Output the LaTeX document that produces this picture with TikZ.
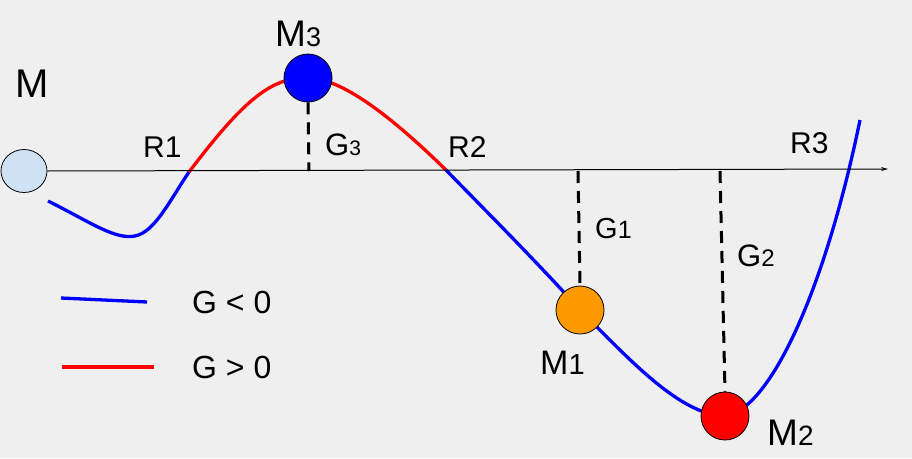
\documentclass[tikz,border=0pt]{standalone}
\usepackage{fontspec}
\setmainfont{Liberation Sans}
\usetikzlibrary{arrows.meta,shapes.geometric}
\definecolor{bg}{HTML}{EFEFEF}
\definecolor{lblue}{HTML}{CFE2F3}
\definecolor{orng}{HTML}{FF9900}
\definecolor{pblue}{HTML}{0000FF}
\definecolor{pred}{HTML}{FF0000}
\begin{document}
\begin{tikzpicture}[x=1pt,y=-1pt,
  curve/.style={line width=3.3pt},
  ball/.style={circle,draw=black,line width=0.8pt,minimum size=48pt,inner sep=0pt},
  lbl/.style={anchor=base west,inner sep=0pt},
  guide/.style={line width=3pt,dash pattern=on 12pt off 8pt}]
\fill[bg] (0,0) rectangle (912,458);
\useasboundingbox (0,0) rectangle (912,458);
% key points
\coordinate (s0) at (48,201);
\coordinate (lmin) at (135,236);
\coordinate (r1) at (189,172);
\coordinate (c3) at (308,78);
\coordinate (r2) at (446,170);
\coordinate (c1) at (580,310);
\coordinate (c2) at (725,416);
\coordinate (send) at (860,120);
\coordinate (ax1) at (888,169);
\coordinate (g3a) at (309,171);
\coordinate (g1a) at (578,171);
\coordinate (g2a) at (720,171);
% curves
\draw[curve,pblue] (s0) .. controls (90,222) and (115,240) .. (lmin)
  .. controls (155,232) and (170,200) .. (r1);
\draw[curve,pred] (r1) .. controls (240,105) and (270,76) .. (c3)
  .. controls (345,78) and (400,125) .. (r2);
\draw[curve,pblue] (r2) .. controls (480,205) and (540,265) .. (c1)
  .. controls (630,360) and (680,415) .. (c2)
  .. controls (770,410) and (825,290) .. (send);
% nodes
\node[ellipse,draw=black,line width=0.8pt,fill=lblue,minimum width=46pt,minimum height=43pt,inner sep=0pt] (m0) at (24,171) {};
\node[ball,fill=pblue] (m3) at (c3) {};
\node[ball,fill=orng] (m1) at (c1) {};
\node[ball,fill=pred] (m2) at (c2) {};
% axis
\draw[line width=1pt,-{Stealth[length=7pt,width=4pt]}] (m0.east) -- (ax1);
% dashed guides
\draw[guide] (m3.south) -- (g3a);
\draw[guide] (g1a) -- (m1.north);
\draw[guide] (g2a) -- (m2.north);
% labels
\node[lbl,font=\fontsize{40}{46}\selectfont] (tM) at (15,97) {M};
\node[lbl,font=\fontsize{37}{44}\selectfont] (tM3) at (275,46) {M{\fontsize{27}{30}\selectfont 3}};
\node[lbl,font=\fontsize{34}{40}\selectfont] (tM1) at (540,374) {M{\fontsize{29}{34}\selectfont 1}};
\node[lbl,font=\fontsize{37}{44}\selectfont] (tM2) at (767,445) {M{\fontsize{28}{32}\selectfont 2}};
\node[lbl,font=\fontsize{30}{36}\selectfont] (tR1) at (143,157) {R1};
\node[lbl,font=\fontsize{30}{36}\selectfont] (tR2) at (448,157) {R2};
\node[lbl,font=\fontsize{30}{36}\selectfont] (tR3) at (790,153) {R3};
\node[lbl,font=\fontsize{31}{36}\selectfont] (tG3) at (325,155) {G{\fontsize{21}{24}\selectfont 3}};
\node[lbl,font=\fontsize{29}{34}\selectfont] (tG1) at (595,238) {G{\fontsize{25}{30}\selectfont 1}};
\node[lbl,font=\fontsize{31}{36}\selectfont] (tG2) at (737,266) {G{\fontsize{24}{28}\selectfont 2}};
% legend
\coordinate (lb0) at (61,298);
\coordinate (lb1) at (147,302);
\coordinate (lr0) at (62,367);
\coordinate (lr1) at (154,367);
\draw[curve,pblue] (lb0) -- (lb1);
\draw[curve,pred] (lr0) -- (lr1);
\node[lbl,font=\fontsize{32}{38}\selectfont] (tneg) at (192,313) {G < 0};
\node[lbl,font=\fontsize{32}{38}\selectfont] (tpos) at (192,378) {G > 0};
\end{tikzpicture}
\end{document}
